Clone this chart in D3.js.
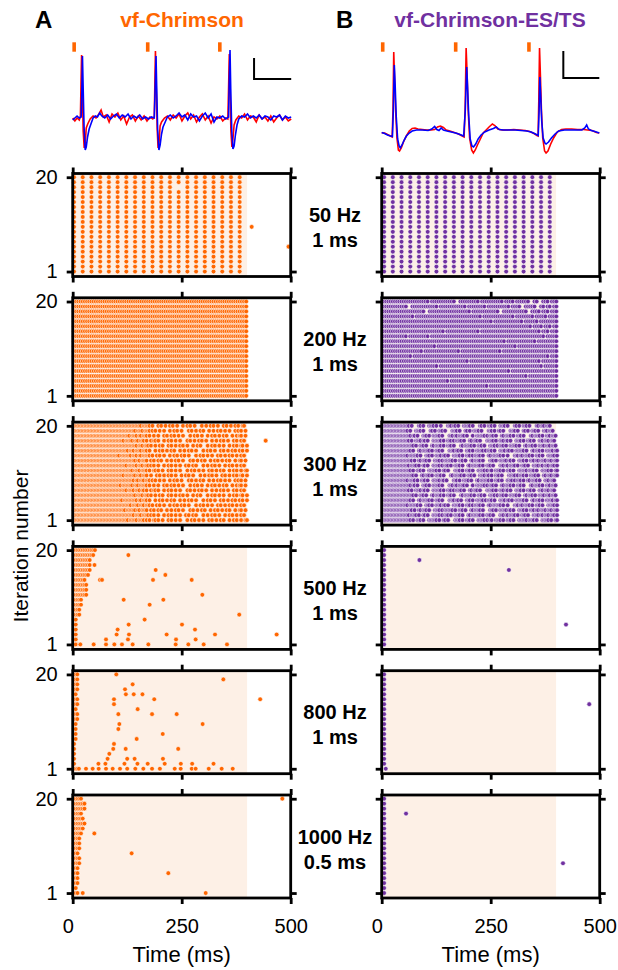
<!DOCTYPE html>
<html>
<head>
<meta charset="utf-8">
<script src="https://cdn.jsdelivr.net/npm/d3@7"></script>
<style>
  body { margin: 0; background: #fff; }
  text { font-family: "Liberation Sans", Arial, sans-serif; }
</style>
</head>
<body>
<script>
// ---- conditions ----
var rates = [50, 200, 300, 500, 800, 1000];
var rateLabels = ['50 Hz', '200 Hz', '300 Hz', '500 Hz', '800 Hz', '1000 Hz'];
var widthLabels = ['1 ms', '1 ms', '1 ms', '1 ms', '1 ms', '0.5 ms'];
var stimWindow = [0, 400];
var latencyA = 3, latencyB = 5.5;
var xTicks = [0, 250, 500];
var yTicks = [1, 20];

// ---- example traces [time ms, signal] ----
var stimA = [1, 51.5, 101];
var stimB = [0.7, 51, 101.5];
var traceARed = [[0,0.1],[1.5,-0.2],[3,0.1],[4.5,-0.1],[5.3,0.3],[5.7,3.5],[6.1,6.4],[6.6,3.2],[7.2,-1.2],[7.9,-2.9],[8.6,-2.4],[9.3,-0.9],[10.3,-0.5],[12,0],[14,0.3],[16,0.1],[18,0.5],[19.5,0.9],[21,0.2],[23,0.4],[25,-0.3],[27,0.5],[29,0.2],[31,0.6],[33,-0.1],[35,0.3],[37,-0.5],[39,0.2],[41,0.4],[43,-0.2],[45,0.3],[47,-0.1],[49,0.3],[51,-0.2],[53,0.2],[55,0],[56,0.2],[56.4,3.5],[56.8,6.8],[57.3,3.5],[58,-1],[58.6,-2.9],[59.3,-2.3],[60,-0.7],[61,-0.3],[63,0.1],[65,0.3],[67,-0.1],[69,0.4],[71,0.1],[73,0.5],[75,-0.2],[77,0.3],[79,0.6],[81,0],[83,0.4],[85,-0.3],[87,0.2],[89,0.5],[91,-0.1],[93,0.3],[95,-0.4],[97,0.2],[99,0],[101,0.3],[103,-0.2],[105,0.1],[106.5,0],[107,3],[107.5,6.5],[108,3],[108.6,-1.2],[109.3,-2.8],[110,-2],[110.8,-0.6],[112,-0.1],[114,0.3],[116,0.1],[118,0.5],[120,-0.1],[122,0.3],[124,0.2],[126,-0.3],[128,0.4],[130,0],[132,0.2],[134,-0.2],[136,0.3],[138,-0.3],[140,0.1],[142,0.4],[144,-0.1],[146,0.2],[148,-0.2],[150,0]];
var traceABlue = [[0,-0.1],[1.5,0.1],[3,0.3],[4.5,0.1],[5.8,0.2],[6.3,3],[6.7,6.3],[7.2,3],[7.8,-0.8],[8.6,-3.1],[9.3,-2.8],[10.2,-1.8],[11.3,-1],[12.5,-0.5],[14,0.1],[15.5,0.3],[17,0.2],[18.5,0.6],[20,0.3],[22,0.1],[24,0.4],[26,0],[28,0.3],[30,0.5],[32,0.1],[34,0.4],[36,0.2],[38,0.5],[40,0],[42,0.3],[44,0.1],[46,0.4],[48,0],[50,0.2],[52,0],[54,0.2],[56,0.1],[56.7,3.5],[57.2,6.3],[57.7,3],[58.3,-1],[59.2,-3.1],[60,-2.6],[61,-1.5],[62,-0.8],[63.5,-0.3],[65,0.2],[67,0.4],[69,0.1],[71,0.3],[73,0.6],[75,0.2],[77,0.4],[79,-0.1],[81,0.5],[83,0.2],[85,0.3],[87,-0.2],[89,0.3],[91,0.6],[93,0.1],[95,0.5],[97,-0.3],[99,0.2],[101,0.1],[103,0.3],[105,0],[107,0.2],[107.5,4],[108,6.9],[108.5,3],[109.2,-1.2],[110,-3.0],[110.8,-2.7],[111.7,-1.6],[112.8,-0.6],[114,0],[116,0.3],[118,0.2],[120,0.5],[122,0.1],[124,0.3],[126,0.1],[128,0.4],[130,0],[132,0.3],[134,0.2],[136,-0.1],[138,0.3],[140,0.2],[142,0.4],[144,-0.1],[146,0.3],[148,0.1],[150,0.2]];
var traceBRed = [[0,-0.17],[2,-0.2],[4,-0.35],[6,-0.5],[7.2,-0.6],[7.8,2.1],[8.3,7.9],[8.9,5.1],[9.6,2.1],[10.5,-0.7],[11.5,-1.9],[12.3,-2.0],[13.5,-1.7],[15,-1.1],[17,-0.5],[19,0],[21,0.25],[23,0.3],[25,0.2],[28,0.15],[31,0.1],[34,0.1],[36.5,0.15],[38.5,0.4],[40.5,0.5],[42.5,0.35],[44.5,0.1],[47,0],[50,-0.15],[53,-0.3],[55.5,-0.5],[56.8,-0.6],[57.5,2.1],[58.2,8.3],[58.9,5.6],[59.6,2.1],[60.6,-0.7],[62,-1.9],[63.2,-2.2],[64.5,-1.9],[66,-1.4],[68,-0.8],[70,-0.2],[72,0.1],[74,0.4],[76.3,0.7],[78,0.55],[80,0.2],[83,0.1],[87,0.1],[91,0.15],[95,0.1],[99,0.05],[102,-0.05],[105,-0.25],[107,-0.45],[107.8,-0.5],[108.3,3.1],[108.8,8.3],[109.4,5.6],[110.1,2.1],[111,-0.7],[112.3,-2.0],[113.3,-2.2],[114.6,-2.0],[116.5,-1.3],[118.5,-0.7],[121,-0.1],[124,0.15],[127,0.2],[131,0.2],[135,0.15],[139,0.15],[142,0.1],[145,0.05],[148,-0.15],[150,-0.2]];
var traceBBlue = [[0,-0.15],[2,-0.25],[4,-0.4],[6,-0.5],[7.4,-0.55],[8,2],[8.7,6.6],[9.3,4.5],[10,1.5],[11,-0.8],[12,-1.5],[12.8,-1.7],[14,-1.4],[15.5,-0.9],[17,-0.5],[19,-0.2],[21,0],[24,0.1],[28,0.1],[32,0.05],[34.5,0.2],[36.5,0.45],[38,0.15],[39.5,0.05],[41,0.3],[42.5,0.1],[45,0],[48,-0.1],[51,-0.2],[54,-0.35],[56.5,-0.5],[57.6,2],[58.6,6.4],[59.3,4],[60,1.5],[61,-0.8],[62.2,-1.5],[63.3,-1.6],[64.8,-1.3],[66.5,-0.8],[68.5,-0.4],[71,-0.1],[74,0.1],[77,0.25],[79,0.4],[81,0.15],[84,0.1],[88,0.1],[92,0.1],[96,0.05],[100,0],[103,-0.1],[106,-0.3],[107.9,-0.45],[108.5,2],[109,5.4],[109.6,3.5],[110.3,1.0],[111.3,-0.7],[112.5,-1.2],[113.3,-1.3],[115,-1.1],[117,-0.7],[119.5,-0.3],[122,0],[126,0.1],[130,0.1],[134,0.1],[138,0.1],[140,0.3],[141.3,0.6],[142.5,0.2],[144.5,0.05],[147,-0.05],[150,-0.2]];

// ---- rasters: one string per iteration (1..20), one char per light pulse, 1 = spike ----
var chrimson50 = [
'11111111111111111111','11111111111111111111','11111111111111111111','11111111111111111111','11111111111111111111',
'11111111111111111111','11111111111111111111','11111111111111111111','11111111111111111111','11111111111111111111',
'11111111111111111111','11111111111111111111','11111111111111111111','11111111111111111111','11111111111111111111',
'11111111111111111111','11111111111111111111','11111111111101111111','11111111111111111111','11111111111111111111'];
var chrimson50Extra = [[410.5,10],[495,6]];
var ests50 = [
'11111111111111111111','11111111111111111111','11111111111111111111','11111111111111111111','11111111111111111111',
'11111111111111111111','11111111111111111111','11111111111111111111','11111111111111111111','11111111111111111111',
'11111111111111111111','11111111111111111111','11111111111111111111','11111111111111111111','11111111111111111111',
'11111111111111111111','11111111111111111111','11111111111111111111','11111111111111111111','11111111111111111111'];
var ests50Extra = [];

var chrimson200 = [
'1111111111 1111111111 1111111111 1111111111 1111111111 1111111111 1111111111 1111111111',
'1111111111 1111111111 1111111111 1111111111 1111111111 1111111111 1111111111 1111111111',
'1111111111 1111111111 1111111111 1111111111 1111111111 1111111111 1111111111 1111111111',
'1111111111 1111111111 1111111111 1111111111 1111111111 1111111111 1111111111 1111111111',
'1111111111 1111111111 1111111111 1111111111 1111111111 1111111111 1111111111 1111111111',
'1111111111 1111111111 1111111111 1111111111 1111111111 1111111111 1111111111 1111111111',
'1111111111 1111111111 1111111111 1111111111 1111111111 1111111111 1111111111 1111111111',
'1111111111 1111111111 1111111111 1111111111 1111111111 1111111111 1111111111 1111111111',
'1111111111 1111111111 1111111111 1111111111 1111111111 1111111111 1111111111 1111111111',
'1111111111 1111111111 1111111111 1111111111 1111111111 1111111111 1111111111 1111111111',
'1111111111 1111111111 1111111111 1111111111 1111111111 1111111111 1111111111 1111111111',
'1111111111 1111111111 1111111111 1111111111 1111111111 1111111111 1111111111 1111111111',
'1111111111 1111111111 1111111111 1111111111 1111111111 1111111111 1111111111 1111111111',
'1111111111 1111111111 1111111111 1111111111 1111111111 1111111111 1111111111 1111111111',
'1111111111 1111111111 1111111111 1111111111 1111111111 1111111111 1111111111 1111111111',
'1111111111 1111111111 1111111111 1111111111 1111111111 1111111111 1111111111 1111111111',
'1111111111 1111111111 1111111111 1111111111 1111111111 1111111111 1111111111 1111111111',
'1111111111 1111111111 1111111111 1111111111 1111111111 1111111111 1111111111 1111111111',
'1111111111 1111111111 1111111111 1111111111 1111111111 1111111111 1111111111 1111111111',
'1111111111 1111111111 1111111111 1111111111 1111111111 1111111111 1111111111 1111111111'];
var chrimson200Extra = [];
var ests200 = [
'1111111111 1111111111 1111111111 1111111111 1111111111 1111111111 1111111111 1111111111',
'1111111111 1111111111 1111111111 1111111111 1111111111 1111111111 1111111111 1111111111',
'1111111111 1111111111 1111111111 1111111111 1111111101 1111111111 1111111111 1111111111',
'1111111111 1111111111 1111111111 0111111111 1111111111 1111111111 1111111111 1111111111',
'1111111111 1111111111 1111111111 1111111111 1111111111 1111111111 1111110111 1111111111',
'1111111111 1111111111 1111111111 1111111111 1111111111 1111111101 1111111111 1111111111',
'1111111111 1111111111 1111101111 1111111111 1111111111 1111111111 1111111111 1110111111',
'1111111111 1111111111 1111111111 1111111110 1111111111 1111111111 1111111111 1101111111',
'1111111111 1110111111 1111111111 1111111111 1111111111 1111111111 1111111111 1111110111',
'1111111111 1111111101 1111111111 1111101111 1111111111 1111011111 1111111111 1111111111',
'1111111111 1111111111 1111011111 1111111111 1111111111 1111111111 1011111111 1111111111',
'1111111111 1111111111 1111111111 1111111111 1111111111 1111110111 1111111111 0111111111',
'1111111111 1011111111 1011111111 1111111111 1111111111 1111111111 1111111111 1111011111',
'1111111111 1111111111 1111111101 1111111111 1111011111 1111111111 1111111111 1101110111',
'1111111111 1111111111 1111111111 1111111111 1111111111 1111111111 1111111101 1110111011',
'1111111111 1111111111 1111111111 1111111111 1111111111 0111111111 1111011111 1011111111',
'1111111111 1111011111 1111111111 1111111111 1111101111 1111111111 0111111110 1111101111',
'1111111111 1111111110 0111111111 1111111111 0111111111 1110011111 1111110011 1101110111',
'1111111111 1001111111 1111101111 1111111101 1111111011 1111111101 1110011111 0011011011',
'1111111111 1111111111 1011111111 1110011111 1111011111 1111101111 0111111001 1001110111'];
var ests200Extra = [];

var chrimson300 = [
'1111111111 1111111111 1111111111 1111111101 1111011110 10 100 110 100 1000 10 100 100 10000 100 10 100 100 1000 10 100 100 10 1000 100 10 100 1001 100100',
'1111111111 1111111111 1111111111 1111111111 1101111011 110 10 100 1000 100 10 100 100 1000 10 100 10 10000 100 100 10 100 1000 100 10 100 100 10 100100',
'1111111111 1111111111 1111111111 1111110111 1110110111 100 10 100 10 1000 100 100 10 100 10000 10 100 100 10 1000 100 10 100 100 10 1000 100 1 100100',
'1111111111 1111111111 1111111111 1111111111 0111101110 1110 100 10 100 1000 100 10 100 10 100 10000 100 10 100 100 1000 10 100 100 10 100 100 10 100100',
'1111111111 1111111111 1111111111 1111011111 1111011011 10 1000 100 10 100 100 10 1000 100 100 10 100 10000 100 10 100 1000 10 100 100 10 100 10 100100',
'1111111111 1111111111 1111111111 1111111111 1110111101 110 100 100 10 1000 10 100 100 10 100 1000 100 10 10000 100 10 100 100 1000 100 10 100 1 100100',
'1111111111 1111111111 1111111111 1111111011 1101110110 100 10 110 1000 100 10 100 100 10000 10 100 100 10 100 1000 100 100 10 100 1000 10 100 10 100100',
'1111111111 1111111111 1111111111 1110111111 1011101111 10 100 100 1000 10 100 10 100 100 10000 100 10 100 1000 100 10 100 100 10 1000 100 10 1 100100',
'1111111111 1111111111 1111111111 1111111111 1101101110 1110 10 100 100 1000 100 10 100 10000 10 100 100 10 1000 100 100 10 100 100 1000 10 10 100100',
'1111111111 1111111111 1111111111 1111101111 1110111011 100 1000 10 100 100 10 100 1000 100 10 100 10000 100 100 10 100 1000 10 100 100 10 100 1 100100',
'1111111111 1111111111 1111111111 1111111111 1011110111 10 100 110 100 1000 10 100 100 10000 100 10 100 100 1000 10 100 100 10 1000 100 10 100 1001 100100',
'1111111111 1111111111 1111111111 1111111011 1111011101 110 10 100 1000 100 10 100 100 1000 10 100 10 10000 100 100 10 100 1000 100 10 100 100 10 100100',
'1111111111 1111111111 1111111111 1111111111 1110110111 100 10 100 10 1000 100 100 10 100 10000 10 100 100 10 1000 100 10 100 100 10 1000 100 1 100100',
'1111111111 1111111111 1111111111 1101111111 0111011011 1110 100 10 100 1000 100 10 100 10 100 10000 100 10 100 100 1000 10 100 100 10 100 100 10 100100',
'1111111111 1111111111 1111111111 1111111101 1101111011 10 1000 100 10 100 100 10 1000 100 100 10 100 10000 100 10 100 1000 10 100 100 10 100 10 100100',
'1111111111 1111111111 1111111111 1111111111 1111011101 110 100 100 10 1000 10 100 100 10 100 1000 100 10 10000 100 10 100 100 1000 100 10 100 1 100100',
'1111111111 1111111111 1111111111 1111101111 1011101110 100 10 110 1000 100 10 100 100 10000 10 100 100 10 100 1000 100 100 10 100 1000 10 100 10 100100',
'1111111111 1111111111 1111111111 1111111110 1111011011 10 100 100 1000 10 100 10 100 100 10000 100 10 100 1000 100 10 100 100 10 1000 100 10 1 100100',
'1111111111 1111111111 1111111111 1111111111 1110111101 1110 10 100 100 1000 100 10 100 10000 10 100 100 10 1000 100 100 10 100 100 1000 10 10 100100',
'1111111111 1111111111 1111111111 1111111111 1111111011 1110 1000 10 100 100 10 100 1000 100 10 100 10000 100 100 10 100 1000 10 100 100 10 100 1 100100'];
var chrimson300Extra = [[442.6,17]];
var ests300 = [
'111111111111111 11110 100 1110 1000 1111110 100 110 10000 11110 100 1110 1000 111110 10 1100 11110 100 1110 1000 1111 110 11110 1000 111110 100 11101110',
'111111111111111 1110 11110 100 110 1000 111110 10 1110 100 11110 1000 110 1111110 100 1110 10000 1110 110 11110 100 1110 1000 11110 110 1110 11101110',
'111111111111111 111110 100 110 1110 1000 11110 10 1111110 100 1110 1000 110 11110 10000 1110 100 111110 110 1000 11110 100 1110 110 11110 11101110',
'111111111111111 110 1111110 1000 1110 100 11110 110 1000 111110 100 1110 10 11110 1000 110 1111110 100 10000 1110 110 11110 100 1110 1000 11 11101110',
'111111111111111 11110 1000 110 111110 100 1110 10000 11110 110 1000 1110 100 111110 10 1110 1000 11110 110 100 1111110 1000 110 1110 100 11 11101110',
'111111111111111 1111110 100 1110 1000 110 11110 100 1110 10000 110 111110 100 1110 1000 11110 10 1110 100 111110 1000 110 1110 100 11110 11101110',
'111111111111111 1110 100 11110 110 1000 1111110 100 1110 10 11110 1000 110 1110 10000 111110 100 1110 110 1000 11110 100 1110 1000 1110 11101110',
'111111111111111 11110 110 1000 1110 100 111110 10000 1110 110 11110 1000 100 1111110 10 1110 1000 110 11110 100 1110 10000 110 11110 100 11101110',
'111111111111111 110 11110 100 1110 1000 111110 110 10000 1110 100 11110 1000 110 1111110 100 1110 1000 11110 10 1110 100 110 11110 1000 11101110',
'111111111111111 1111110 1000 110 1110 100 11110 10000 110 111110 100 1110 1000 11110 110 100 1110 10000 111110 10 1110 100 11110 1000 110 11101110',
'111111111111111 11110 100 1110 1000 1111110 100 110 10000 11110 100 1110 1000 111110 10 1100 11110 100 1110 1000 1111 110 11110 1000 111110 100 11101110',
'111111111111111 1110 11110 100 110 1000 111110 10 1110 100 11110 1000 110 1111110 100 1110 10000 1110 110 11110 100 1110 1000 11110 110 1110 11101110',
'111111111111111 111110 100 110 1110 1000 11110 10 1111110 100 1110 1000 110 11110 10000 1110 100 111110 110 1000 11110 100 1110 110 11110 11101110',
'111111111111111 110 1111110 1000 1110 100 11110 110 1000 111110 100 1110 10 11110 1000 110 1111110 100 10000 1110 110 11110 100 1110 1000 11 11101110',
'111111111111111 11110 1000 110 111110 100 1110 10000 11110 110 1000 1110 100 111110 10 1110 1000 11110 110 100 1111110 1000 110 1110 100 11 11101110',
'111111111111111 1111110 100 1110 1000 110 11110 100 1110 10000 110 111110 100 1110 1000 11110 10 1110 100 111110 1000 110 1110 100 11110 11101110',
'111111111111111 1110 100 11110 110 1000 1111110 100 1110 10 11110 1000 110 1110 10000 111110 100 1110 110 1000 11110 100 1110 1000 1110 11101110',
'111111111111111 11110 110 1000 1110 100 111110 10000 1110 110 11110 1000 100 1111110 10 1110 1000 110 11110 100 1110 10000 110 11110 100 11101110',
'111111111111111 110 1000 11110 10000 110 100 1110 10000 11110 1000 110 100 11110 10000 1110 100 110 10000 11110 1000 110 100 1110 1000 11101110',
'111111111111111 1110 10000 110 1000 11110 100 10000 1110 110 1000 111110 10000 110 100 1110 1000 11110 10000 110 100 1110 10000 110 11101110'];
var ests300Extra = [];

var chrimson500 = ['101','101','101','101','101','101','1010101','1010101','101010101','101010101',
'101010101010101','101010101010101','101010101010101','1010101010101','10101010101010101',
'1010101010101010101','1010101010101010101','1010101010101010101','10101010101010101010101','1010101010101010101010101'];
var chrimson500Extra = [[17.5,1],[48.1,1],[76.4,1],[95.5,1],[113,1],[137.5,1],[173.5,1],[236.2,1],[265.2,1],[300.4,1],[353.9,1],
[76.4,2],[126.8,2],[237,2],[282,2],[100.8,3],[129.1,3],[215.5,3],[326.4,3],[467.8,3],[103.1,4],[280.5,4],
[128.4,5],[250.7,5],[165,6],[382,7],[176.5,9],[116.9,10],[207.9,10],[297.3,11],
[62.6,14],[67.2,14],[184.2,14],[272.9,14],[212.5,15],[190.3,16],[50,17],[127.7,19]];
var ests500 = ['1','1','1','1','1','1','1','1','1','1','1','1','1','1','1','1','1','1','1','1'];
var ests500Extra = [[86.5,18],[291.7,16],[422.7,5]];

var chrimson800 = ['1001001001','1','1','1','1','1','1001','1001','1001','1001',
'1001001','1001001','1001','1001001','1001001','1001','1001001','1001001','1001001','1001001'];
var chrimson800Extra = [[30.5,1],[45.8,1],[59.6,1],[76.4,1],[91.7,1],[108.5,1],[125,1],[143.6,1],[162,1],[182,1],[200,1],[234,1],[247.7,1],[273,1],[282,1],[312,1],[341.7,1],[367,1],
[59,2],[75,2],[118.7,2],[148.5,2],[172,2],[211,2],[248,2],[274,2],[323,2],[80,3],[125,3],[142,3],[207,3],[84,4],
[93,5],[121.5,5],[242,5],[94.7,6],[146.7,7],[206.5,8],[104.7,9],[107,10],[298,10],[104.7,12],[182,12],[238.5,12],
[149,13],[94.7,14],[94.7,15],[187,15],[430,15],[122,16],[140,16],[160,16],[120,17],[137.5,18],[345.5,19],[100,20]];
var ests800 = ['0001','1','1','1','1','1','1','1','1','1','1','1','1','1','1','1','1','1','1','1'];
var ests800Extra = [[476,14]];

var chrimson1000 = ['100010001000000000001','10001','100010001','100010001','100010001','100010001',
'1000100010001','1000100010001','100010001','1000100010001','1000100010001','1000100010001',
'10001000100010001','100010001000100010001','1000100010001000100010001','100010001000100010001',
'10001000100010001','1000100010001000100010001','1000100010001000100010001','10001000100010001'];
var chrimson1000Extra = [[49.6,13],[135.2,9],[219.3,5],[305,1],[480.8,20]];
var ests1000 = ['1','1','1','1','1','1','1','1','1','1','1','1','1','1','1','1','1','1','1','1'];
var ests1000Extra = [[55.8,17],[415.8,7]];

var rastersA = [chrimson50, chrimson200, chrimson300, chrimson500, chrimson800, chrimson1000];
var extrasA = [chrimson50Extra, chrimson200Extra, chrimson300Extra, chrimson500Extra, chrimson800Extra, chrimson1000Extra];
var rastersB = [ests50, ests200, ests300, ests500, ests800, ests1000];
var extrasB = [ests50Extra, ests200Extra, ests300Extra, ests500Extra, ests800Extra, ests1000Extra];

// ---- layout ----
var orange = '#ff6600', purple = '#7030a0', shade = '#fdf0e6';
var colX = [72.7, 381.7], panelW = 218, panelH = 103;
var rowY = d3.scaleLinear().domain([0, 5]).range([173.5, 795]);

var svg = d3.select('body').append('svg').attr('width', 618).attr('height', 970);

var x = d3.scaleLinear().domain([0, 500]).range([0, panelW]);
var y = d3.scaleLinear().domain([0, 20.75]).range([panelH, 0]);

// pulse-locked spikes (only pulses inside the light window) plus free spikes
function spikes(rows, rate, latency, extra) {
  var period = 1000 / rate, out = [];
  rows.forEach(function(s, i) {
    s = s.replace(/ /g, '');
    for (var k = 0; k < s.length && k * period < stimWindow[1]; k++) {
      if (s[k] === '1') out.push({t: latency + k * period, it: i + 1});
    }
  });
  extra.forEach(function(e) { out.push({t: e[0], it: e[1]}); });
  out.sort(function(a, b) { return a.it - b.it || a.t - b.t; });
  return out;
}

function styleAxis(g) {
  g.select('.domain').remove();
  g.selectAll('.tick line').attr('stroke', '#000').attr('stroke-width', 2.8);
  g.selectAll('.tick text').attr('fill', '#000').style('font-size', '20px')
    .style('font-family', '"Liberation Sans", Arial, sans-serif');
}

[0, 1].forEach(function(c) {
  var rasters = c === 0 ? rastersA : rastersB;
  var extras = c === 0 ? extrasA : extrasB;
  var color = c === 0 ? orange : purple;
  var latency = c === 0 ? latencyA : latencyB;

  rates.forEach(function(rate, r) {
    var g = svg.append('g').attr('transform', 'translate(' + colX[c] + ',' + rowY(r) + ')');

    g.append('rect')
      .attr('x', x(stimWindow[0])).attr('y', 0)
      .attr('width', x(stimWindow[1]) - x(stimWindow[0])).attr('height', panelH)
      .attr('fill', shade);

    g.append('g').selectAll('circle')
      .data(spikes(rasters[r], rate, latency, extras[r]))
      .enter().append('circle')
      .attr('cx', function(d) { return x(d.t); })
      .attr('cy', function(d) { return y(d.it); })
      .attr('r', 2.35)
      .attr('fill', color)
      .attr('stroke', '#fff')
      .attr('stroke-width', 0.6);

    g.append('rect').attr('width', panelW).attr('height', panelH)
      .attr('fill', 'none').attr('stroke', '#000').attr('stroke-width', 2.8);

    g.append('g').call(d3.axisTop(x).tickValues(xTicks).tickSize(6).tickFormat('')).call(styleAxis);
    g.append('g').attr('transform', 'translate(0,' + panelH + ')')
      .call(d3.axisBottom(x).tickValues(xTicks).tickSize(6).tickPadding(15)
        .tickFormat(r === 5 ? d3.format('d') : ''))
      .call(styleAxis)
      .selectAll('.tick text').attr('dx', function(d) { return d === 0 ? -5 : 0; });
    g.append('g')
      .call(d3.axisLeft(y).tickValues(yTicks).tickSize(6).tickPadding(9)
        .tickFormat(c === 0 ? d3.format('d') : ''))
      .call(styleAxis);
    g.append('g').attr('transform', 'translate(' + panelW + ',0)')
      .call(d3.axisRight(y).tickValues(yTicks).tickSize(6).tickFormat(''))
      .call(styleAxis);

    if (r === 5) {
      g.append('text').attr('x', panelW / 2).attr('y', 167)
        .attr('text-anchor', 'middle').style('font-size', '22px').text('Time (ms)');
    }
  });
});

// condition labels between columns
rates.forEach(function(rate, r) {
  var cy = rowY(r) + panelH / 2;
  svg.append('text').attr('x', 335).attr('y', cy - 3).attr('text-anchor', 'middle')
    .style('font-size', '20px').style('font-weight', 'bold').text(rateLabels[r]);
  svg.append('text').attr('x', 335).attr('y', cy + 22).attr('text-anchor', 'middle')
    .style('font-size', '20px').style('font-weight', 'bold').text(widthLabels[r]);
});

svg.append('text')
  .attr('transform', 'translate(28,546) rotate(-90)')
  .attr('text-anchor', 'middle').style('font-size', '21px').text('Iteration number');

// headers
svg.append('text').attr('x', 35).attr('y', 28).style('font-size', '24px').style('font-weight', 'bold').text('A');
svg.append('text').attr('x', 182).attr('y', 27).attr('text-anchor', 'middle')
  .style('font-size', '21px').style('font-weight', 'bold').attr('fill', orange).text('vf-Chrimson');
svg.append('text').attr('x', 336).attr('y', 28).style('font-size', '24px').style('font-weight', 'bold').text('B');
svg.append('text').attr('x', 490).attr('y', 27).attr('text-anchor', 'middle')
  .style('font-size', '21px').style('font-weight', 'bold').attr('fill', purple).text('vf-Chrimson-ES/TS');

// example traces
function drawTraces(x0, x1, base, stims, red, blue, bar) {
  var tx = d3.scaleLinear().domain([0, 150]).range([x0, x1]);
  var ty = d3.scaleLinear().domain([0, 1]).range([base, base - 10]);
  var line = d3.line().x(function(d) { return tx(d[0]); }).y(function(d) { return ty(d[1]); });

  svg.append('g').selectAll('rect').data(stims).enter().append('rect')
    .attr('x', function(d) { return tx(d) - 1.8; }).attr('y', 42.3)
    .attr('width', 3.6).attr('height', 9.4).attr('fill', orange);

  svg.append('path').datum(red).attr('d', line)
    .attr('fill', 'none').attr('stroke', '#ff0000').attr('stroke-width', 1.6);
  svg.append('path').datum(blue).attr('d', line)
    .attr('fill', 'none').attr('stroke', '#0000ff').attr('stroke-width', 1.6);

  svg.append('path')
    .attr('d', 'M' + tx(bar[0]) + ',' + ty(bar[3]) + 'V' + ty(bar[2]) + 'H' + tx(bar[1]))
    .attr('fill', 'none').attr('stroke', '#000').attr('stroke-width', 2);
}

var scaleBarA = [124.5, 150, 4.0, 6.1];
var scaleBarB = [125.2, 150, 5.3, 8.0];
drawTraces(72.7, 291.2, 119, stimA, traceARed, traceABlue, scaleBarA);
drawTraces(381.7, 599.3, 131, stimB, traceBRed, traceBBlue, scaleBarB);
</script>
</body>
</html>
